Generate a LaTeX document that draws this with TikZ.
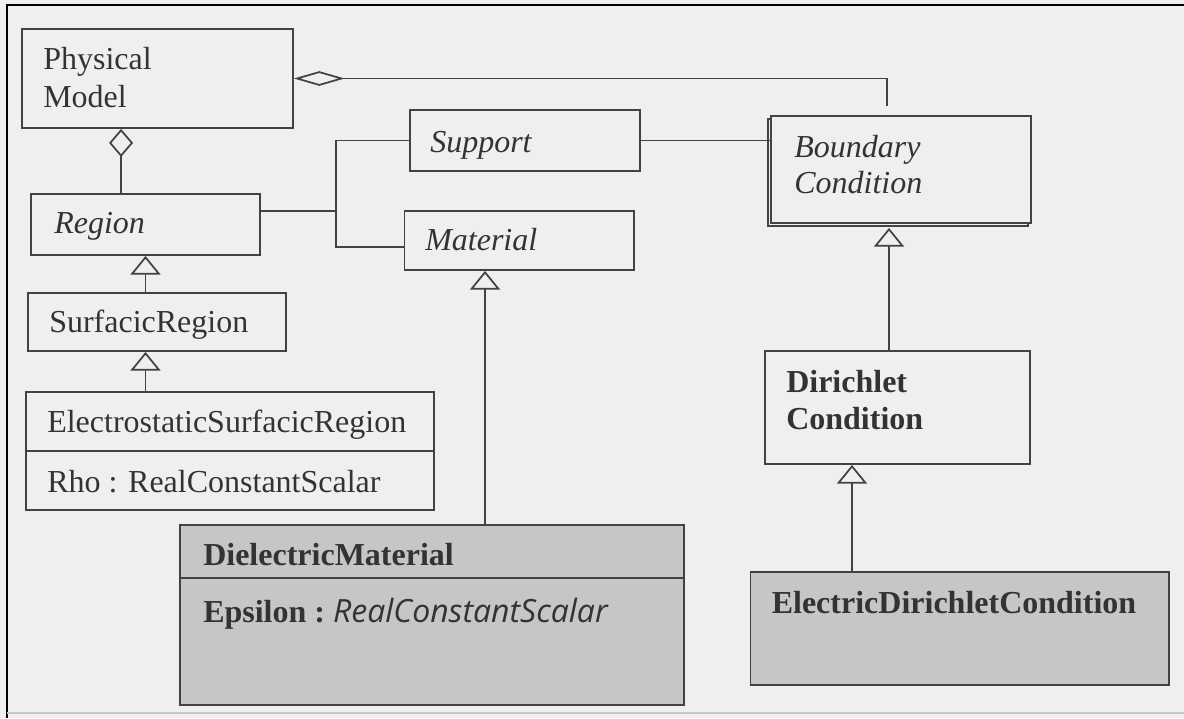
\documentclass[tikz,border=0pt]{standalone}
\usepackage{fontspec}
\setmainfont{Liberation Serif}
\newfontfamily\attrsans{Open Sans}
\usetikzlibrary{arrows.meta,calc,fit,shadows}
\definecolor{paper}{HTML}{EFEFEF}
\definecolor{ink}{HTML}{333333}
\definecolor{stroke}{HTML}{424242}
\definecolor{shade}{HTML}{C6C6C6}

\begin{document}
\begin{tikzpicture}[x=0.75pt,y=-0.75pt,
  umlbox/.style={draw=stroke, line width=1.4pt, inner sep=0pt, fill=paper},
  concrete/.style={umlbox, fill=shade},
  lbl/.style={anchor=base west, inner sep=0pt, text=ink, font=\fontsize{24}{28}\selectfont},
  conn/.style={draw=stroke, line width=1.3pt},
  gen/.style={conn, -{Triangle[open, length=14pt, width=22.5pt]}},
  aggwide/.style={conn, {Diamond[open, length=38pt, width=11pt]}-},
  aggtall/.style={conn, {Diamond[open, length=21pt, width=18pt]}-}
]
% page and frame
\useasboundingbox (0,0) rectangle (1184,718);
\fill[paper] (0,0) rectangle (1184,718);
\draw[stroke, line width=1.5pt] (7,718) -- (7,5) -- (1184,5);
\draw[stroke!30, line width=1pt] (7,713) -- (1184,713);

% classes
\node[umlbox, fit={(22,29) (293,128)}] (pm) {};
\node[umlbox, fit={(31,194) (260,255)}] (rg) {};
\node[umlbox, fit={(410,110) (640,171)}] (sup) {};
\node[umlbox, fit={(404.5,211) (634,270)}] (mat) {};
\node[umlbox, copy shadow={shadow xshift=-2.5pt, shadow yshift=-2.5pt},
      fit={(771,116) (1031,223)}] (bc) {};
\node[umlbox, fit={(28,293) (286,351)}] (sr) {};
\node[umlbox, fit={(26,392) (434,451)}] (esr) {};
\node[umlbox, fit={(26,451) (434,510)}] (esra) {};
\node[concrete, fit={(180,525) (684,578)}] (die) {};
\node[concrete, fit={(180,578) (684,705)}] (diea) {};
\node[umlbox, fit={(765,351) (1030,464)}] (dc) {};
\node[concrete, fit={(750.5,572) (1169,685)}] (edc) {};

% class names and attributes
\node[lbl] (pmt1) at (43,69) {Physical};
\node[lbl] (pmt2) at (43,107) {Model};
\node[lbl] (rgt) at (54,233) {\itshape Region};
\node[lbl] (supt) at (430,152) {\itshape Support};
\node[lbl] (matt) at (425,250) {\itshape Material};
\node[lbl] (bct1) at (794,157) {\itshape Boundary};
\node[lbl] (bct2) at (794,193) {\itshape Condition};
\node[lbl] (srt) at (49,332) {SurfacicRegion};
\node[lbl] (esrt) at (47,432) {ElectrostaticSurfacicRegion};
\node[lbl] (esrat) at (47,492) {Rho : RealConstantScalar};
\node[lbl] (diet) at (203,565) {\bfseries DielectricMaterial};
\node[lbl] (dieat) at (203,622) {\bfseries Epsilon :\ {\attrsans\mdseries\itshape\fontsize{24}{28}\selectfont RealConstantScalar}};
\node[lbl] (dct1) at (786,392) {\bfseries Dirichlet};
\node[lbl] (dct2) at (786,429) {\bfseries Condition};
\node[lbl] (edct) at (771.5,613) {\bfseries ElectricDirichletCondition};

% aggregations
\coordinate (bcin) at (887,106);
\draw[aggwide] (pm.east) -| (bcin);
\draw[aggtall] ($(pm.south west)+(100,0)$) -- ($(rg.north west)+(91,0)$);

% associations
\coordinate (jn) at (337,211);
\draw[conn] (rg.east |- jn) -- (jn);
\draw[conn] (sup.west) -| ($(mat.west)+(-67.5,6.5)$) -- ($(mat.west)+(0,6.5)$);
\draw[conn] (sup.east) -- (sup.east -| bc.west);

% generalizations
\draw[gen] (rg.south |- sr.north) -- (rg.south);
\draw[gen] (rg.south |- esr.north) -- (rg.south |- sr.south);
\coordinate (mx) at (485,0);
\draw[gen] (mx |- die.north) -- (mx |- mat.south);
\coordinate (bx) at (889,0);
\draw[gen] (bx |- dc.north) -- ($(bx |- bc.south)+(0,4)$);
\coordinate (dx) at (852,0);
\draw[gen] (dx |- edc.north) -- (dx |- dc.south);
\end{tikzpicture}
\end{document}
